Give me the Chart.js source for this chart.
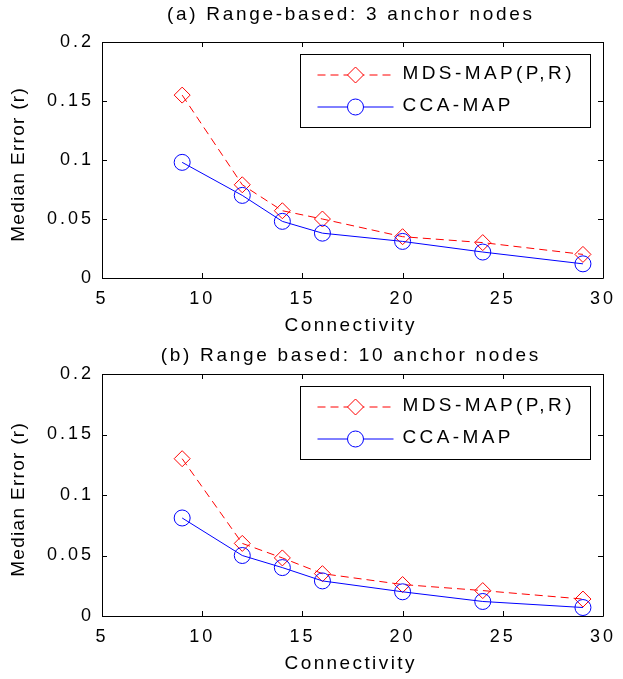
<!DOCTYPE html>
<html>
<head>
<meta charset="utf-8">
<script src="https://cdn.jsdelivr.net/npm/chart.js@4.4.0/dist/chart.umd.min.js"></script>
<style>
    html, body { margin: 0; padding: 0; background: #fff; }
    .panel { position: absolute; left: 0; width: 623px; }
</style>
</head>
<body>
<div class="panel" style="top:0;height:340px"><canvas id="chartA" width="623" height="340"></canvas></div>
<div class="panel" style="top:340px;height:339px"><canvas id="chartB" width="623" height="339"></canvas></div>
<script>
// Connectivity values (x)
const connectivity = [9, 12, 14, 16, 20, 24, 29];

// (a) 3 anchor nodes
const mdsA = [0.155, 0.079, 0.057, 0.050, 0.035, 0.030, 0.020];
const ccaA = [0.098, 0.070, 0.048, 0.038, 0.031, 0.022, 0.012];

// (b) 10 anchor nodes
const mdsB = [0.130, 0.060, 0.048, 0.035, 0.026, 0.021, 0.014];
const ccaB = [0.081, 0.050, 0.040, 0.029, 0.020, 0.012, 0.007];

const seriesNames = ['MDS-MAP(P,R)', 'CCA-MAP'];
const titles = ['(a) Range-based: 3 anchor nodes', '(b) Range based: 10 anchor nodes'];
const xLabel = 'Connectivity';
const yLabel = 'Median Error (r)';

const xTicks = [5, 10, 15, 20, 25, 30];
const xTickLabels = ['5', '10', '15', '20', '25', '30'];
const yTicks = [0, 0.05, 0.1, 0.15, 0.2];
const yTickLabels = ['0', '0.05', '0.1', '0.15', '0.2'];

const FAMILY = '"Liberation Sans", Arial, sans-serif';
const TICK_FONT = { family: FAMILY, size: 18 };
const RED = '#ff0000';
const BLUE = '#0000ff';

function toPoints(xs, ys) {
    return xs.map((x, i) => ({ x, y: ys[i] }));
}

function spacedText(ctx, text, x, y, spacing) {
    ctx.letterSpacing = spacing + 'px';
    ctx.fillText(text, x + (ctx.textAlign === 'center' ? spacing / 2 : 0), y);
}

// Box, inward ticks, titles and legend drawn MATLAB-style
const matlabAxes = {
    id: 'matlabAxes',
    beforeDraw(chart) {
        chart.ctx.letterSpacing = '3px';
    },
    afterDraw(chart, args, opts) {
        const ctx = chart.ctx;
        const a = chart.chartArea;
        const xs = chart.scales.x;
        const ys = chart.scales.y;
        ctx.save();
        ctx.strokeStyle = '#000';
        ctx.lineWidth = 1;
        ctx.setLineDash([]);
        ctx.beginPath();
        ctx.rect(Math.round(a.left) + 0.5, Math.round(a.top) + 0.5,
            Math.round(a.right - a.left), Math.round(a.bottom - a.top));
        xTicks.forEach(v => {
            const px = Math.round(xs.getPixelForValue(v)) + 0.5;
            ctx.moveTo(px, a.bottom); ctx.lineTo(px, a.bottom - 5);
            ctx.moveTo(px, a.top); ctx.lineTo(px, a.top + 5);
        });
        yTicks.forEach(v => {
            const py = Math.round(ys.getPixelForValue(v)) + 0.5;
            ctx.moveTo(a.left, py); ctx.lineTo(a.left + 5, py);
            ctx.moveTo(a.right, py); ctx.lineTo(a.right - 5, py);
        });
        ctx.stroke();

        const cx = (a.left + a.right) / 2 - 3;
        ctx.fillStyle = '#000';
        ctx.font = `19px ${FAMILY}`;
        ctx.textAlign = 'center';
        ctx.textBaseline = 'middle';
        spacedText(ctx, opts.title, cx, opts.titleY, 2.7);
        spacedText(ctx, xLabel, cx, a.bottom + opts.xLabelDy, 2.4);
        ctx.save();
        ctx.translate(19, (a.top + a.bottom) / 2 + 5);
        ctx.rotate(-Math.PI / 2);
        spacedText(ctx, yLabel, 0, 0, 1.3);
        ctx.restore();

        // legend
        const bw = 290, bh = 73;
        const bx = Math.round(a.right - 13 - bw) + 0.5;
        const by = Math.round(a.top + 12) + 0.5;
        ctx.fillStyle = '#fff';
        ctx.fillRect(bx, by, bw, bh);
        ctx.strokeRect(bx, by, bw, bh);
        ctx.textAlign = 'left';
        chart.data.datasets.forEach((ds, i) => {
            const ry = by + 20.5 + i * 32;
            ctx.strokeStyle = ds.borderColor;
            ctx.setLineDash(ds.borderDash || []);
            ctx.beginPath();
            ctx.moveTo(bx + 17, ry);
            ctx.lineTo(bx + 93, ry);
            ctx.stroke();
            ctx.setLineDash([]);
            const mx = bx + 55;
            const r = ds.pointRadius;
            ctx.fillStyle = '#fff';
            ctx.beginPath();
            if (ds.pointStyle === 'rectRot') {
                ctx.moveTo(mx, ry - r); ctx.lineTo(mx + r, ry);
                ctx.lineTo(mx, ry + r); ctx.lineTo(mx - r, ry);
                ctx.closePath();
            } else {
                ctx.arc(mx, ry, r, 0, Math.PI * 2);
            }
            ctx.fill();
            ctx.stroke();
            ctx.fillStyle = '#000';
            spacedText(ctx, ds.label, bx + 102, ry - 1, 3.4);
        });
        ctx.restore();
    }
};

function makeChart(id, mds, cca, cfg) {
    const ctx = document.getElementById(id).getContext('2d');
    return new Chart(ctx, {
        type: 'line',
        data: {
            datasets: [{
                label: seriesNames[0],
                data: toPoints(connectivity, mds),
                borderColor: RED,
                borderWidth: 1,
                borderDash: [8, 5],
                pointStyle: 'rectRot',
                pointRadius: 8,
                pointBorderColor: RED,
                pointBackgroundColor: 'rgba(0,0,0,0)',
                pointBorderWidth: 1,
                tension: 0,
                order: 2
            }, {
                label: seriesNames[1],
                data: toPoints(connectivity, cca),
                borderColor: BLUE,
                borderWidth: 1,
                pointStyle: 'circle',
                pointRadius: 8,
                pointBorderColor: BLUE,
                pointBackgroundColor: 'rgba(0,0,0,0)',
                pointBorderWidth: 1,
                tension: 0,
                order: 1
            }]
        },
        options: {
            responsive: false,
            animation: false,
            events: [],
            layout: { padding: { top: cfg.top, right: 14, left: 0, bottom: 0 } },
            plugins: {
                legend: { display: false },
                tooltip: { enabled: false },
                title: { display: false },
                matlabAxes: { title: cfg.title, titleY: cfg.titleY, xLabelDy: 48 }
            },
            scales: {
                x: {
                    type: 'linear',
                    min: 5, max: 30,
                    grid: { display: false, drawTicks: false },
                    border: { display: false },
                    afterBuildTicks: s => { s.ticks = xTicks.map(v => ({ value: v })); },
                    afterFit: s => { s.height = cfg.xHeight; },
                    ticks: {
                        color: '#000', font: TICK_FONT, padding: 10,
                        maxRotation: 0,
                        callback: (v, i) => xTickLabels[i]
                    }
                },
                y: {
                    type: 'linear',
                    min: 0, max: 0.2,
                    grid: { display: false, drawTicks: false },
                    border: { display: false },
                    afterBuildTicks: s => { s.ticks = yTicks.map(v => ({ value: v })); },
                    afterFit: s => { s.width = 102; },
                    ticks: {
                        color: '#000', font: TICK_FONT, padding: 8,
                        callback: (v, i) => yTickLabels[i]
                    }
                }
            }
        },
        plugins: [matlabAxes]
    });
}

makeChart('chartA', mdsA, ccaA, { top: 42, xHeight: 62, title: titles[0], titleY: 15 });
makeChart('chartB', mdsB, ccaB, { top: 34, xHeight: 63, title: titles[1], titleY: 16 });
</script>
</body>
</html>
